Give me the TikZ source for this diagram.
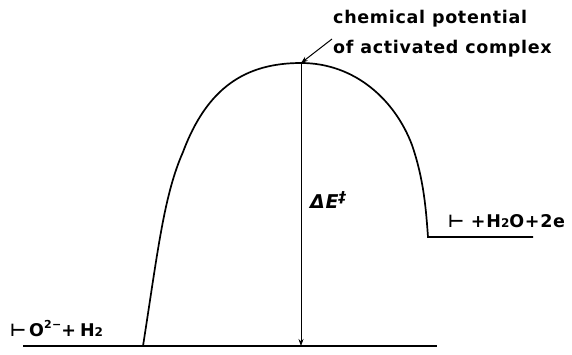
\documentclass[tikz,border=0pt]{standalone}
\usepackage{fontspec}
\setmainfont{DejaVu Sans}[LetterSpace=4]
\usetikzlibrary{arrows.meta}
\newcommand{\smalltwo}{{\fontsize{12}{12}\selectfont 2}}
\begin{document}
\begin{tikzpicture}[x=1pt,y=-1pt,
    lbl/.style={inner sep=0pt,anchor=base west,font=\fontsize{17.5}{17.5}\selectfont\bfseries}]
  \useasboundingbox (0,0) rectangle (572,354);
  \coordinate (L0) at (23,346);
  \coordinate (L1) at (437,346);
  \coordinate (A) at (143,346);
  \coordinate (B) at (183,152);
  \coordinate (P) at (301,63);
  \coordinate (C) at (412,145);
  \coordinate (D) at (428,237);
  \coordinate (R) at (533,237);
  \coordinate (Q) at (301,346);
  \coordinate (T) at (332,39);
  \draw[line width=1.7pt] (L0) -- (L1);
  \draw[line width=1.7pt] (A) .. controls (158,250) and (164,195) .. (B)
    .. controls (207,88) and (245,63) .. (P)
    .. controls (355,63) and (395,100) .. (C)
    .. controls (424,180) and (426,210) .. (D) -- (R);
  \draw[line width=0.7pt,-{Stealth[length=7pt,width=5pt]}] (P) -- (Q);
  \draw[line width=1pt,-{Stealth[length=7pt,width=5pt]}] (T) -- (P);
  \node[lbl] (top1) at (333,23) {chemical potential};
  \node[lbl] (top2) at (333,53) {of activated complex};
  \node[lbl,font=\fontsize{19}{19}\selectfont\bfseries\itshape] (dE) at (310,208)
    {ΔE\raisebox{6pt}{\fontsize{15}{15}\selectfont\bfseries ‡}};
  \node[lbl] (prod) at (448,227) {⊢ +H\smalltwo O+2e};
  \node[lbl] (reac) at (10,336)
    {⊢\kern3pt O\raisebox{8pt}{\fontsize{11}{11}\selectfont\bfseries 2−}+\kern4pt H\smalltwo};
\end{tikzpicture}
\end{document}
